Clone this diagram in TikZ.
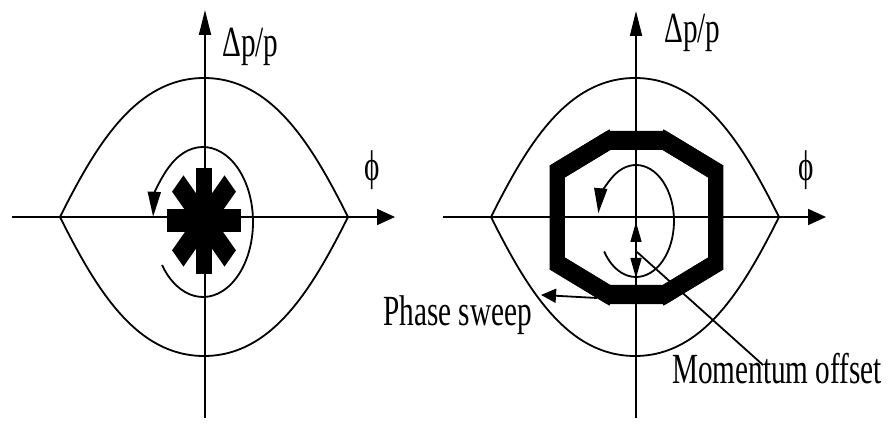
\documentclass[tikz,border=0pt]{standalone}
\usepackage{fontspec}
\setmainfont{Liberation Serif}
\usetikzlibrary{arrows.meta}

\newcommand{\narrow}[1]{\scalebox{0.68}[1]{#1}}

\begin{document}
\begin{tikzpicture}[
  x=1pt, y=1pt,
  font=\fontsize{43}{50}\selectfont,
  every node/.style={inner sep=0pt},
  axis/.style={draw=black, line width=1.8pt},
  haxis/.style={axis, -{Triangle[length=18pt, width=16pt]}},
  vaxis/.style={axis, -{Triangle[length=25pt, width=12pt]}},
  sep/.style={draw=black, line width=1.8pt},
  orbit/.style={draw=black, line width=1.8pt, -{Triangle[length=25pt, width=13pt]}},
  ring/.style={draw=black, line width=19pt, line join=miter},
  flare/.style={draw=black, line width=19pt, line cap=butt, shorten <=-6pt, shorten >=-6pt},
  offarr/.style={draw=black, line width=1.5pt, {Triangle[length=20pt, width=11pt]}-{Triangle[length=20pt, width=11pt]}},
  sweeparr/.style={draw=black, line width=1.8pt, -{Triangle[length=15pt, width=14pt]}},
  lead/.style={draw=black, line width=1.8pt}
]
\useasboundingbox (0,0) rectangle (893,423);

% axes
\draw[haxis] (12,206) -- (395,206);
\draw[vaxis] (205,5) -- (205,413);
\draw[haxis] (443,206) -- (826,206);
\draw[vaxis] (636,5) -- (636,412);

% separatrix of both buckets
\foreach \cx in {204,635}{
  \draw[sep, shift={(\cx,206)}] (-144,0) .. controls (-108,72) and (-68,139) .. (0,139)
    .. controls (68,139) and (108,72) .. (144,0)
    .. controls (108,-72) and (68,-139) .. (0,-139)
    .. controls (-68,-139) and (-108,-72) .. (-144,0) -- cycle;
}

% bunch, left
\begin{scope}[shift={(204,202)}, xscale=0.7]
  \foreach \a in {0,45,90,135}
    \fill[rotate=\a] (-53,-11.5) rectangle (53,11.5);
\end{scope}

% synchrotron motion
\draw[orbit] (203,201) ++(215:50 and 75) arc[start angle=215, end angle=536, x radius=50, y radius=75];
\draw[orbit] (636,202) ++(213:38 and 56) arc[start angle=213, end angle=532, x radius=38, y radius=56];

% filamented ring, right
\begin{scope}[transform canvas={shift={(636.5,205.5)}, xscale=0.8}]
  \draw[ring] (-35,77) -- (35,77) -- (99,46) -- (99,-46) -- (35,-77)
    -- (-35,-77) -- (-99,-46) -- (-99,46) -- cycle;
  \draw[flare] (35,77) -- (99,46);
  \draw[flare] (99,-46) -- (35,-77);
  \draw[flare] (-35,-77) -- (-99,-46);
  \draw[flare] (-99,46) -- (-35,77);
\end{scope}

% labels
\node[anchor=base west] (dpl) at (222,366) {\narrow{Δp/p}};
\node[anchor=base west] (dpr) at (664,380) {\narrow{Δp/p}};
\node (phil) at (372,253) {\narrow{ϕ}};
\node (phir) at (806,253) {\narrow{ϕ}};
\node[anchor=base west] (sweep) at (383,98) {\narrow{Phase sweep}};
\node[anchor=base west] (offset) at (672,40) {\narrow{Momentum offset}};

% momentum offset
\coordinate (dpT) at (636,201);
\coordinate (dpB) at (636,145);
\draw[offarr] (dpT) -- (dpB);
\coordinate (offA) at (637,171);
\coordinate (offL) at (763,58);
\draw[lead] (offA) -- (offL);

% phase sweep
\coordinate (swpA) at (597,125);
\draw[sweeparr] (swpA) -- ([xshift=9pt]sweep.north east);
\end{tikzpicture}
\end{document}
